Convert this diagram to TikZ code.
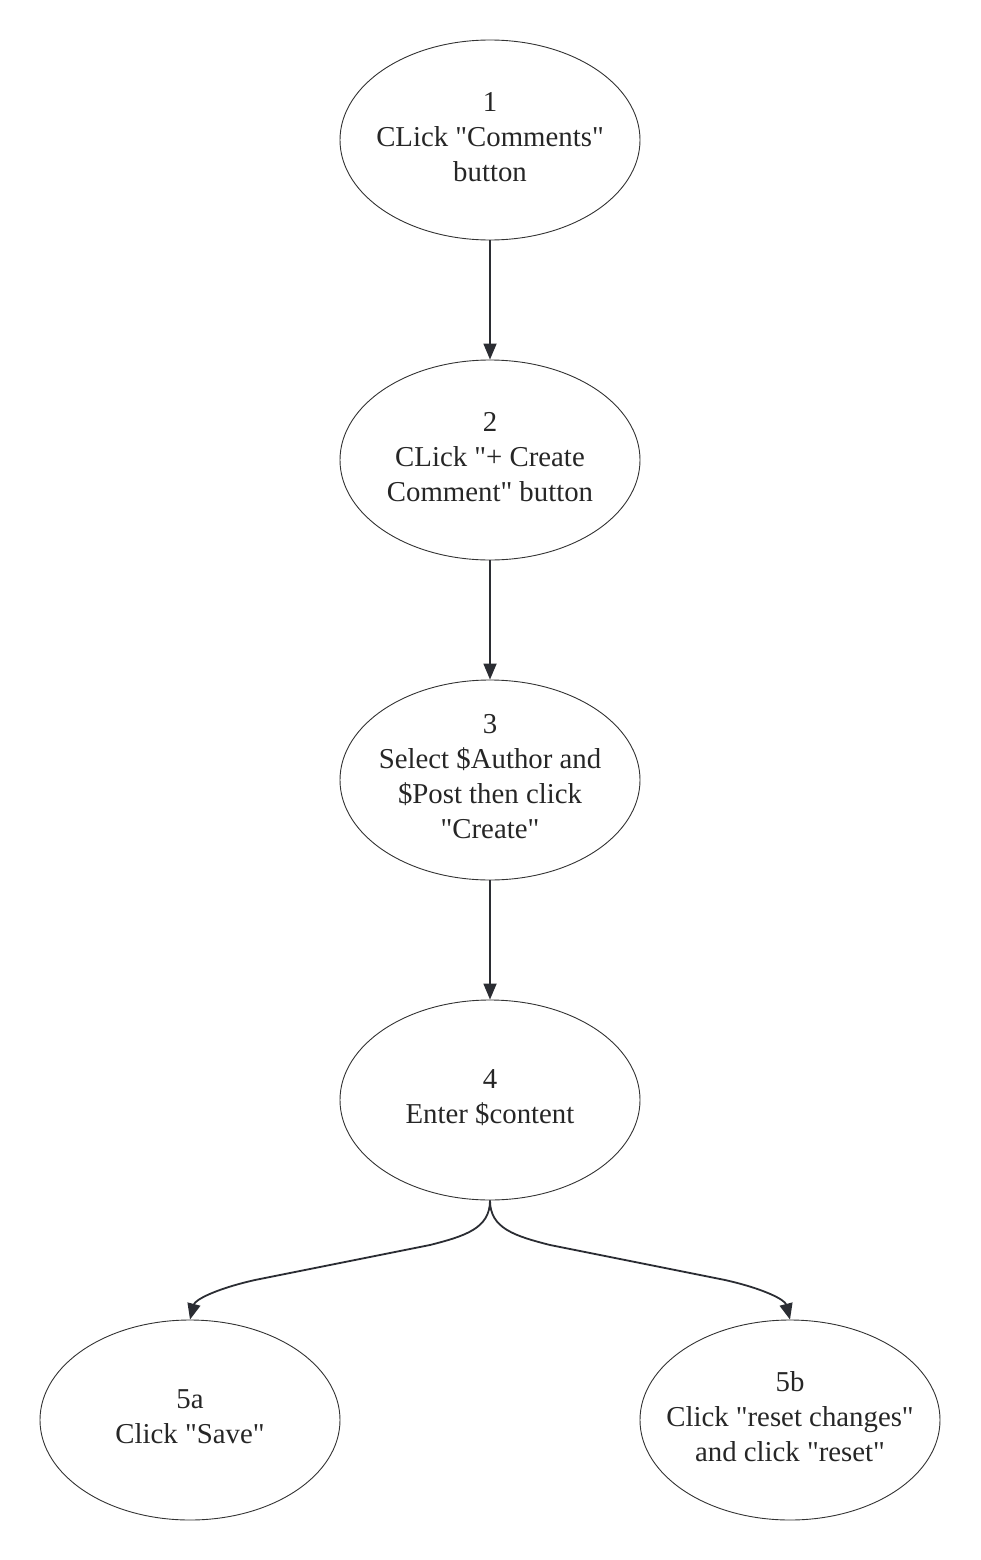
\documentclass[tikz,border=0pt]{standalone}
\usepackage{fontspec}
\setmainfont{Liberation Serif}[Ligatures=TeXOff]
\usetikzlibrary{arrows.meta,shapes.geometric}
\definecolor{edgecol}{HTML}{2B2D33}
\definecolor{linecol}{HTML}{333333}
\begin{document}
\begin{tikzpicture}[x=1pt,y=-1pt,
  stepnode/.style={ellipse,draw=linecol,line width=0.9pt,minimum width=300pt,minimum height=200pt,inner xsep=-40pt,inner ysep=0pt,text depth=7pt,align=center,font=\fontsize{28.8}{35}\selectfont,text=black!85},
  conn/.style={draw=edgecol,line width=1.8pt,-{Triangle[length=16pt,width=13pt]}}]
\useasboundingbox (0,0) rectangle (980,1560);
\node[stepnode] (n1) at (490,140) {1\\CLick "Comments"\\button};
\node[stepnode] (n2) at (490,460) {2\\CLick "+ Create\\Comment" button};
\node[stepnode] (n3) at (490,780) {3\\Select \$Author and\\\$Post then click\\"Create"};
\node[stepnode] (n4) at (490,1100) {4\\Enter \$content};
\node[stepnode] (n5a) at (190,1420) {5a\\Click "Save"};
\node[stepnode] (n5b) at (790,1420) {5b\\Click "reset changes"\\and click "reset"};
\draw[conn] (n1.south) -- (n2.north);
\draw[conn] (n2.south) -- (n3.north);
\draw[conn] (n3.south) -- (n4.north);
\draw[conn] (n4.south) .. controls +(0,28) and (465,1236) .. (430,1245) -- (255,1280) .. controls (215,1289) and (195,1300) .. (n5a.north);
\draw[conn] (n4.south) .. controls +(0,28) and (515,1236) .. (550,1245) -- (725,1280) .. controls (765,1289) and (785,1300) .. (n5b.north);
\end{tikzpicture}
\end{document}
